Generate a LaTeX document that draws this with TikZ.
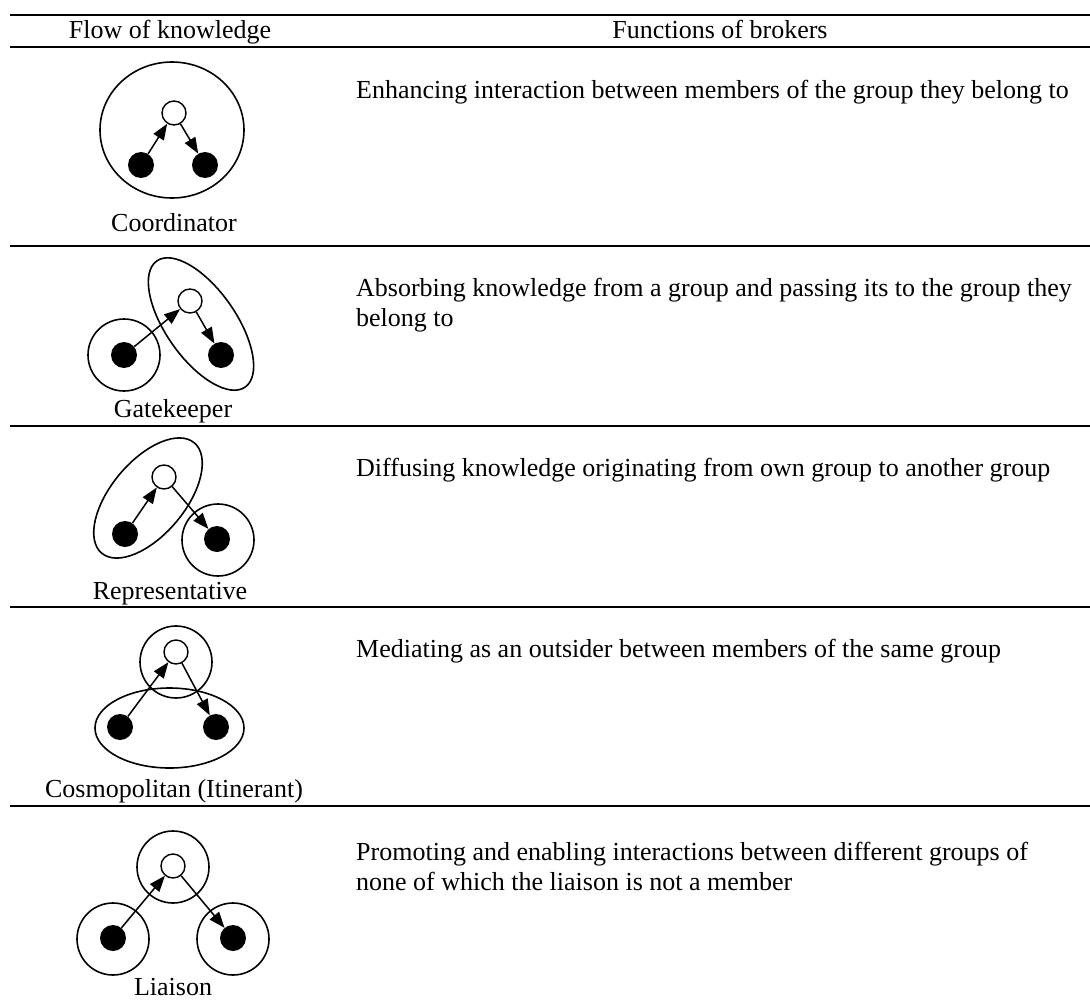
\documentclass[tikz,border=0pt]{standalone}
\usepackage{fontspec}
\setmainfont{Liberation Serif}
\usetikzlibrary{arrows.meta}
\begin{document}
\begin{tikzpicture}[x=1pt,y=-1pt,
  rulethick/.style={line width=2.2pt},
  group/.style={line width=1.6pt},
  broker/.style={circle,draw,fill=white,line width=1.4pt,minimum size=24pt,inner sep=0pt},
  member/.style={circle,fill=black,minimum size=26pt,inner sep=0pt},
  flow/.style={line width=1.5pt,-{Triangle[length=16pt,width=12pt]}},
  role/.style={font=\fontsize{26}{30}\selectfont,anchor=base,inner sep=0pt},
  func/.style={font=\fontsize{26}{30}\selectfont,anchor=base west,inner sep=0pt},
]
\useasboundingbox (0,0) rectangle (1090,1001);

% table rules
\draw[rulethick] (10,15) -- (1090,15);
\draw[rulethick] (10,47) -- (1090,47);
\draw[rulethick] (10,246) -- (1090,246);
\draw[rulethick] (10,426) -- (1090,426);
\draw[rulethick] (10,607) -- (1090,607);
\draw[rulethick] (10,806) -- (1090,806);

% header
\node[role] (h1) at (170,38) {Flow of knowledge};
\node[role] (h2) at (720,38) {Functions of brokers};

% --- Coordinator ---
\draw[group] (172,130) ellipse [x radius=72, y radius=68];
\node[broker] (c-b) at (174,113) {};
\node[member] (c-m1) at (141,165) {};
\node[member] (c-m2) at (205,165) {};
\draw[flow] (c-m1) -- (c-b);
\draw[flow] (c-b) -- (c-m2);
\node[role] (c-lab) at (174,231) {Coordinator};
\node[func] (c-fn) at (356,98) {Enhancing interaction between members of the group they belong to};

% --- Gatekeeper ---
\draw[group] (124,355) circle [radius=36];
\draw[group, rotate around={-55:(201,324)}] (201,324) ellipse [x radius=77, y radius=35];
\node[broker] (g-b) at (190,301) {};
\node[member] (g-m1) at (124,355) {};
\node[member] (g-m2) at (221,355) {};
\draw[flow] (g-m1) -- (g-b);
\draw[flow] (g-b) -- (g-m2);
\node[role] (g-lab) at (173,417) {Gatekeeper};
\node[func] (g-fn1) at (356,296) {Absorbing knowledge from a group and passing its to the group they};
\node[func] (g-fn2) at (356,326) {belong to};

% --- Representative ---
\draw[group, rotate around={50:(148,498)}] (148,498) ellipse [x radius=72, y radius=37];
\draw[group] (218,540) circle [radius=36];
\node[broker] (r-b) at (164,477) {};
\node[member] (r-m1) at (125,534) {};
\node[member] (r-m2) at (217,539) {};
\draw[flow] (r-m1) -- (r-b);
\draw[flow] (r-b) -- (r-m2);
\node[role] (r-lab) at (170,599) {Representative};
\node[func] (r-fn) at (356,476) {Diffusing knowledge originating from own group to another group};

% --- Cosmopolitan ---
\draw[group] (176,662) circle [radius=36];
\draw[group] (169.5,728) ellipse [x radius=74.5, y radius=40];
\node[broker] (k-b) at (176,652) {};
\node[member] (k-m1) at (120,727) {};
\node[member] (k-m2) at (216,727) {};
\draw[flow] (k-m1) -- (k-b);
\draw[flow] (k-b) -- (k-m2);
\node[role] (k-lab) at (174,797) {Cosmopolitan (Itinerant)};
\node[func] (k-fn) at (356,657) {Mediating as an outsider between members of the same group};

% --- Liaison ---
\draw[group] (173,867) circle [radius=36];
\draw[group] (113,939) circle [radius=36];
\draw[group] (233,939) circle [radius=36];
\node[broker] (l-b) at (173,866) {};
\node[member] (l-m1) at (113,938) {};
\node[member] (l-m2) at (233,938) {};
\draw[flow] (l-m1) -- (l-b);
\draw[flow] (l-b) -- (l-m2);
\node[role] (l-lab) at (173,995) {Liaison};
\node[func] (l-fn1) at (356,860) {Promoting and enabling interactions between different groups of};
\node[func] (l-fn2) at (356,890) {none of which the liaison is not a member};
\end{tikzpicture}
\end{document}
